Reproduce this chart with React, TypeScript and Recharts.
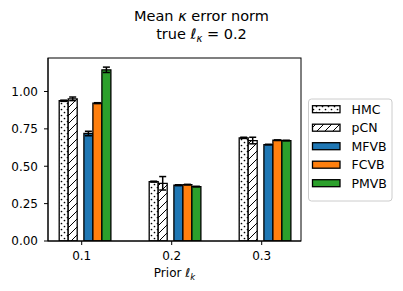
import React from 'react';
import { BarChart, Bar, XAxis, YAxis, ErrorBar } from 'recharts';

const priors = [0.1, 0.2, 0.3];
const hmc = [0.938, 0.397, 0.69];
const hmcErr = [0.004, 0.003, 0.004];
const pcn = [0.951, 0.386, 0.672];
const pcnErr = [0.012, 0.045, 0.022];
const mfvb = [0.719, 0.373, 0.645];
const mfvbErr = [0.015, 0.003, 0.002];
const fcvb = [0.922, 0.377, 0.674];
const fcvbErr = [0.003, 0.002, 0.002];
const pmvb = [1.145, 0.364, 0.672];
const pmvbErr = [0.018, 0.002, 0.002];
const yTicks = [0, 0.25, 0.5, 0.75, 1.0];

const legendItems = [
  { name: 'HMC', fill: 'url(#dotsLeg)' },
  { name: 'pCN', fill: 'url(#hatchLeg)' },
  { name: 'MFVB', fill: '#1f77b4' },
  { name: 'FCVB', fill: '#ff7f0e' },
  { name: 'PMVB', fill: '#2ca02c' },
];

const data = priors.map((p, i) => ({
  prior: p,
  hmc: hmc[i], hmcErr: hmcErr[i],
  pcn: pcn[i], pcnErr: pcnErr[i],
  mfvb: mfvb[i], mfvbErr: mfvbErr[i],
  fcvb: fcvb[i], fcvbErr: fcvbErr[i],
  pmvb: pmvb[i], pmvbErr: pmvbErr[i],
  gap: null,
}));

const FONT = '"DejaVu Sans", sans-serif';

const PLOT_L = 48, PLOT_T = 58, PLOT_R = 301, PLOT_B = 241;

function Patterns({ suffix }: { suffix: string }) {
  return (
    <defs>
      <pattern id={'dots' + suffix} width="6" height="6" patternUnits="userSpaceOnUse">
        <rect width="6" height="6" fill="#fff" />
        <circle cx="1.5" cy="1.5" r="0.85" fill="#000" />
        <circle cx="4.5" cy="4.5" r="0.85" fill="#000" />
      </pattern>
      <pattern id={'hatch' + suffix} width="8" height="8" patternUnits="userSpaceOnUse">
        <rect width="8" height="8" fill="#fff" />
        <path d="M-2,2 L2,-2 M0,8 L8,0 M6,10 L10,6" stroke="#000" strokeWidth="1" />
      </pattern>
    </defs>
  );
}

export default function App() {
  const errProps = { stroke: '#000', strokeWidth: 1.5, width: 3.5 } as any;
  return (
    <div style={{ position: 'absolute', left: 0, top: 0, width: 403, height: 291, background: '#fff', fontFamily: FONT }}>
      <BarChart
        width={403}
        height={291}
        data={data}
        margin={{ top: PLOT_T, right: 403 - PLOT_R, bottom: 20, left: 8 }}
        barGap={0}
      >
        <Patterns suffix="" />
        <XAxis
          dataKey="prior"
          type="number"
          domain={[0.06256, 0.34367]}
          allowDataOverflow
          ticks={priors}
          tickFormatter={(v: number) => v.toFixed(1)}
          height={30}
          axisLine={{ stroke: '#000', strokeWidth: 1 }}
          tickLine={{ stroke: '#000' }}
          tickSize={4}
          tickMargin={6}
          tick={{ fill: '#000', fontSize: 12, fontFamily: FONT }}
        />
        <YAxis
          type="number"
          domain={[0, 1.224]}
          allowDataOverflow
          ticks={yTicks}
          tickFormatter={(v: number) => v.toFixed(2)}
          width={40}
          axisLine={{ stroke: '#000', strokeWidth: 1 }}
          tickLine={{ stroke: '#000' }}
          tickSize={4}
          tickMargin={6}
          tick={{ fill: '#000', fontSize: 12, fontFamily: FONT }}
        />
        <Bar dataKey="gap" barSize={7.5} fill="none" isAnimationActive={false} />
        <Bar dataKey="hmc" barSize={9} fill="url(#dots)" stroke="#000" strokeWidth={1.3} isAnimationActive={false}>
          <ErrorBar dataKey="hmcErr" {...errProps} />
        </Bar>
        <Bar dataKey="pcn" barSize={9} fill="url(#hatch)" stroke="#000" strokeWidth={1.3} isAnimationActive={false}>
          <ErrorBar dataKey="pcnErr" {...errProps} />
        </Bar>
        <Bar dataKey="gap" barSize={6.7} fill="none" isAnimationActive={false} />
        <Bar dataKey="mfvb" barSize={9} fill="#1f77b4" stroke="#000" strokeWidth={1.3} isAnimationActive={false}>
          <ErrorBar dataKey="mfvbErr" {...errProps} />
        </Bar>
        <Bar dataKey="fcvb" barSize={9} fill="#ff7f0e" stroke="#000" strokeWidth={1.3} isAnimationActive={false}>
          <ErrorBar dataKey="fcvbErr" {...errProps} />
        </Bar>
        <Bar dataKey="pmvb" barSize={9} fill="#2ca02c" stroke="#000" strokeWidth={1.3} isAnimationActive={false}>
          <ErrorBar dataKey="pmvbErr" {...errProps} />
        </Bar>
      </BarChart>
      <svg
        width={403}
        height={291}
        style={{ position: 'absolute', left: 0, top: 0, pointerEvents: 'none' }}
        fontFamily={FONT}
      >
        <Patterns suffix="Leg" />
        <rect x={PLOT_L} y={PLOT_T} width={PLOT_R - PLOT_L} height={PLOT_B - PLOT_T} fill="none" stroke="#000" strokeWidth={1} />
        <text x={201.5} y={20.7} textAnchor="middle" fontSize={14.5} fill="#000">
          Mean <tspan fontStyle="italic">κ</tspan> error norm
        </text>
        <text x={201.5} y={39.3} textAnchor="middle" fontSize={14.5} fill="#000">
          true <tspan fontStyle="italic">ℓ</tspan>
          <tspan fontSize={10} dy={3} fontStyle="italic">κ</tspan>
          <tspan dy={-3}> = 0.2</tspan>
        </text>
        <text x={174.5} y={277} textAnchor="middle" fontSize={12} fill="#000">
          Prior <tspan fontStyle="italic">ℓ</tspan>
          <tspan fontSize={8.5} dy={3} fontStyle="italic">k</tspan>
        </text>
        <rect x={308.5} y={99} width={83.5} height={102} rx={3} fill="#fff" stroke="#ccc" strokeWidth={1} />
        {legendItems.map((it, i) => {
          const cy = 109.2 + i * 18.5;
          return (
            <g key={it.name}>
              <rect x={312.5} y={cy - 3.5} width={27.5} height={7} fill={it.fill} stroke="#000" strokeWidth={1.3} />
              <text x={351.5} y={cy + 4.5} fontSize={12.5} fill="#000">{it.name}</text>
            </g>
          );
        })}
      </svg>
    </div>
  );
}
